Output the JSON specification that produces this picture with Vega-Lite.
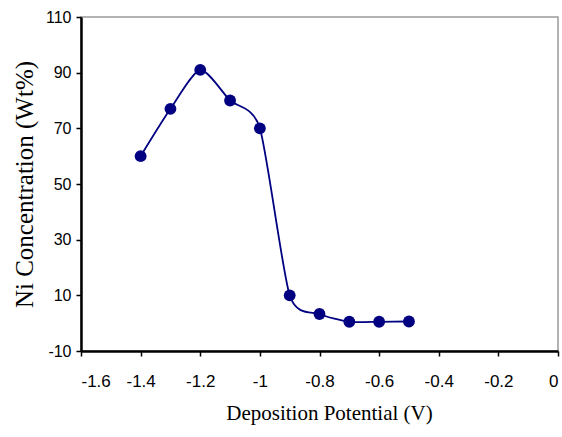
{
  "$schema": "https://vega.github.io/schema/vega-lite/v6.json",
  "autosize": "none",
  "width": 477,
  "height": 334,
  "padding": {"left": 81, "top": 17, "right": 4, "bottom": 86},
  "background": "white",
  "data": {
    "values": [
      {"potential": -1.4, "ni": 60},
      {"potential": -1.3, "ni": 77},
      {"potential": -1.2, "ni": 91},
      {"potential": -1.1, "ni": 80},
      {"potential": -1.0, "ni": 70},
      {"potential": -0.9, "ni": 10},
      {"potential": -0.8, "ni": 3.3},
      {"potential": -0.7, "ni": 0.5},
      {"potential": -0.6, "ni": 0.5},
      {"potential": -0.5, "ni": 0.6}
    ]
  },
  "encoding": {
    "x": {
      "field": "potential",
      "type": "quantitative",
      "title": "Deposition Potential (V)",
      "scale": {"domain": [-1.6, 0], "nice": false, "zero": false},
      "axis": {
        "values": [-1.6, -1.4, -1.2, -1.0, -0.8, -0.6, -0.4, -0.2, 0],
        "labelExpr": "'' + datum.value",
        "labelPadding": 17,
        "labelFontSize": 17,
        "titleFontSize": 21,
        "titlePadding": 13,
        "titleX": 248
      }
    },
    "y": {
      "field": "ni",
      "type": "quantitative",
      "title": "Ni Concentration (Wt%)",
      "scale": {"domain": [-10, 110], "nice": false, "zero": false},
      "axis": {
        "values": [-10, 10, 30, 50, 70, 90, 110],
        "labelExpr": "'' + datum.value",
        "labelPadding": 5,
        "labelFontSize": 16,
        "titleFontSize": 25,
        "titlePadding": 8
      }
    }
  },
  "layer": [
    {
      "mark": {"type": "line", "interpolate": "cardinal", "tension": 0.3, "color": "#000080", "strokeWidth": 1.8}
    },
    {
      "mark": {"type": "point", "filled": true, "shape": "circle", "size": 140, "color": "#000080", "opacity": 1}
    }
  ],
  "config": {
    "view": {"stroke": "#9a9a9a", "strokeWidth": 1.5},
    "axis": {
      "grid": false,
      "domainColor": "black",
      "domainWidth": 2.5,
      "tickColor": "black",
      "tickSize": 5,
      "tickWidth": 1.5,
      "labelColor": "black",
      "labelFont": "Liberation Sans",
      "titleFont": "Liberation Serif",
      "titleFontWeight": "normal",
      "titleColor": "black"
    }
  }
}
